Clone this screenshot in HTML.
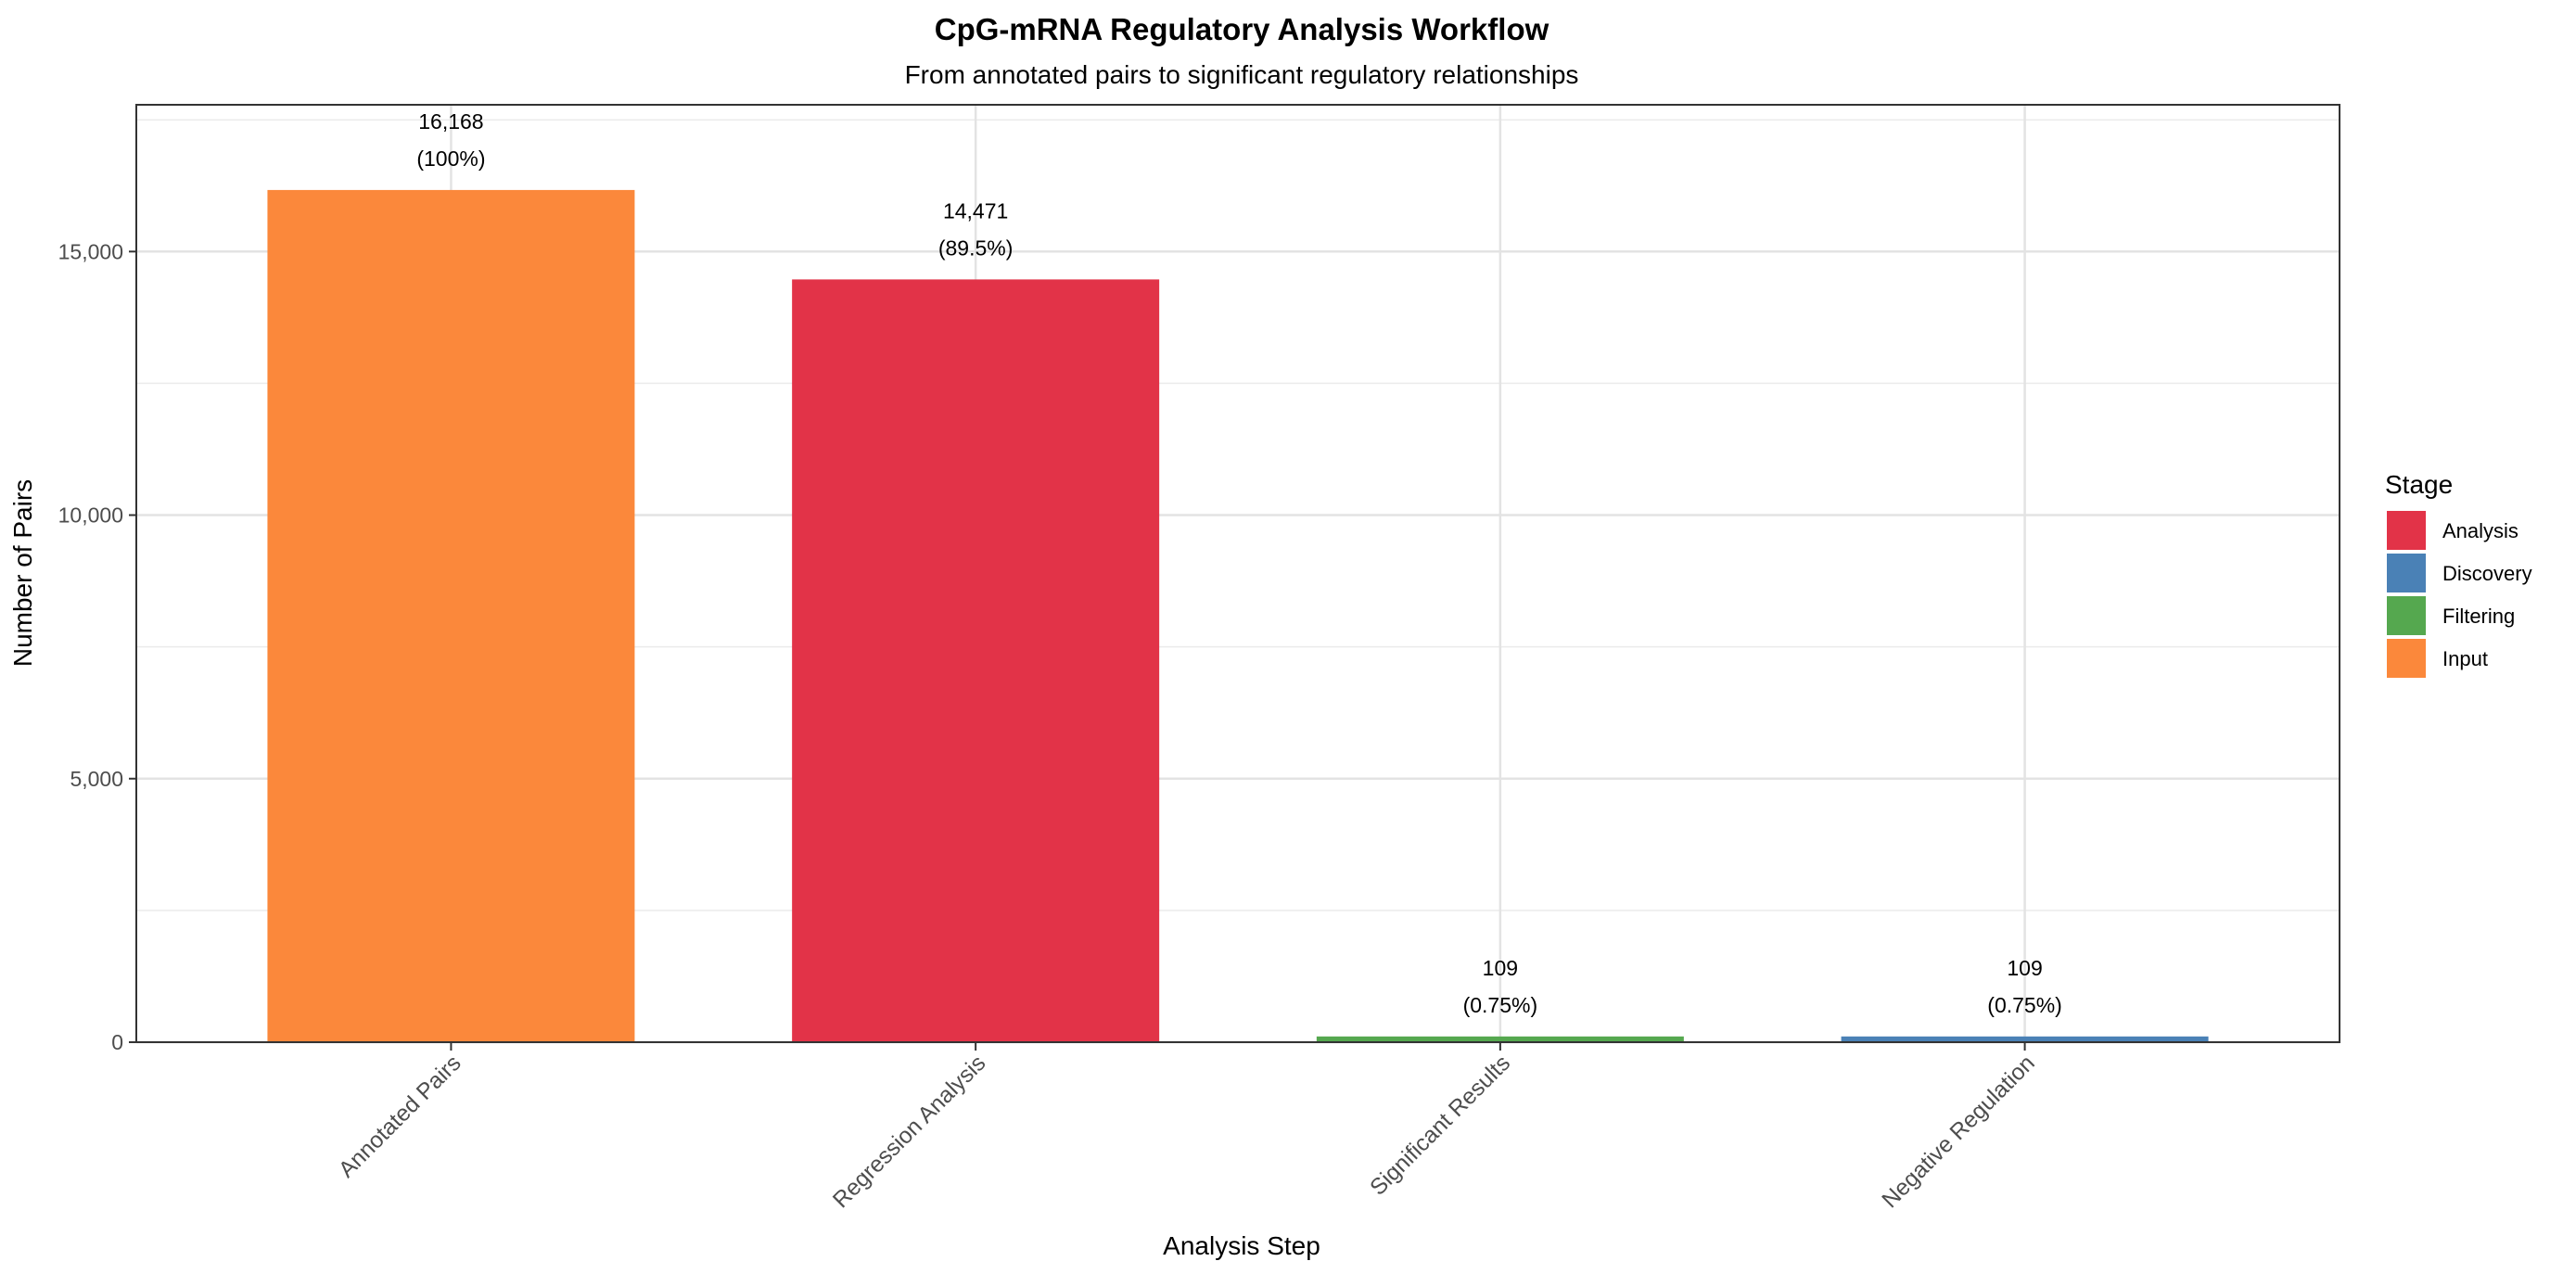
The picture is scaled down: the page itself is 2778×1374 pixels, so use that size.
<!DOCTYPE html>
<html><head><meta charset="utf-8"><style>
html,body{margin:0;padding:0;background:#fff;}
svg{display:block;font-family:"Liberation Sans",Arial,sans-serif;}
</style></head><body>
<svg id="chart" width="2778" height="1374" viewBox="0 0 2778 1374">
<rect x="0" y="0" width="2778" height="1374" fill="#fff"/>
<text x="1339" y="43" text-anchor="middle" font-size="33" font-weight="bold" fill="#000">CpG-mRNA Regulatory Analysis Workflow</text>
<text x="1339" y="90" text-anchor="middle" font-size="28" fill="#000">From annotated pairs to significant regulatory relationships</text>
<g id="grid"></g>
<g id="bars"></g>
<g id="labels"></g>
<rect x="147" y="113" width="2376" height="1011" fill="none" stroke="#333" stroke-width="2"/>
<g id="yaxis"></g>
<g id="xaxis"></g>
<text transform="translate(34,618) rotate(-90)" text-anchor="middle" font-size="28" fill="#000">Number of Pairs</text>
<text x="1339" y="1353" text-anchor="middle" font-size="28" fill="#000">Analysis Step</text>
<g id="legend">
<text x="2572" y="532" font-size="28" fill="#000">Stage</text>
</g>
</svg>
<script>
const categories = ["Annotated Pairs","Regression Analysis","Significant Results","Negative Regulation"];
const values = [16168, 14471, 109, 109];
const pctLabels = ["(100%)","(89.5%)","(0.75%)","(0.75%)"];
const stages = ["Input","Analysis","Filtering","Discovery"];
const yTicks = [0, 5000, 10000, 15000];
const legendStages = ["Analysis","Discovery","Filtering","Input"];
const stageColors = {Analysis:"#e23348",Discovery:"#4a81b6",Filtering:"#55a84f",Input:"#fb883b"};

const NS="http://www.w3.org/2000/svg";
const L=147,R=2523,T=113,B=1124;
const yMax=Math.max(...values)*1.1;
const y=v=>B-(v/yMax)*(B-T);
const step=(R-L)/(categories.length-1+1.2);
const x=i=>L+step*(0.6+i);
function mk(tag,attrs,parent){const e=document.createElementNS(NS,tag);for(const k in attrs)e.setAttribute(k,attrs[k]);parent.appendChild(e);return e;}
const grid=document.getElementById('grid'),bars=document.getElementById('bars'),labels=document.getElementById('labels'),yaxis=document.getElementById('yaxis'),xaxis=document.getElementById('xaxis'),legend=document.getElementById('legend');
mk('rect',{x:L,y:T,width:R-L,height:B-T,fill:'#fff'},grid);
for(let i=0;i<yTicks.length;i++){
  const mv=yTicks[i]+2500;
  if(mv<yMax){const g=mk('line',{x1:L,x2:R,y1:y(mv),y2:y(mv),stroke:'#ebebeb','stroke-width':1.5},grid);
  
  }
}
yTicks.forEach(t=>{
  const g=mk('line',{x1:L,x2:R,y1:y(t),y2:y(t),stroke:'#e3e3e3','stroke-width':2.5},grid);
  
  
  const tk=mk('line',{x1:L-8,x2:L,y1:y(t),y2:y(t),stroke:'#333','stroke-width':2},yaxis);
  
  
  const tl=mk('text',{x:L-14,y:y(t)+8,'text-anchor':'end','font-size':23,fill:'#4d4d4d'},yaxis);
  tl.textContent=t.toLocaleString('en-US');
  
  
});
categories.forEach((c,i)=>{
  const cx=x(i);
  const vg=mk('line',{x1:cx,x2:cx,y1:T,y2:B,stroke:'#e3e3e3','stroke-width':2.5},grid);
  
  
  const w=step*0.7;
  const b=mk('rect',{x:cx-w/2,y:y(values[i]),width:w,height:B-y(values[i]),fill:stageColors[stages[i]]},bars);
  
  
  const t1=mk('text',{x:cx,y:y(values[i])-66,'text-anchor':'middle','font-size':23,fill:'#000'},labels);
  t1.textContent=values[i].toLocaleString('en-US');
  
  
  const t2=mk('text',{x:cx,y:y(values[i])-26,'text-anchor':'middle','font-size':23,fill:'#000'},labels);
  t2.textContent=pctLabels[i];
  
  
  const tk=mk('line',{x1:cx,x2:cx,y1:B,y2:B+9,stroke:'#333','stroke-width':2},xaxis);
  
  
  const xl=mk('text',{transform:`translate(${cx+12},${B+24}) rotate(-45)`,'text-anchor':'end','font-size':24.5,fill:'#4d4d4d'},xaxis);
  xl.textContent=c;
  
  
});
legendStages.forEach((s,i)=>{
  const yy=551+i*46;
  const k=mk('rect',{x:2574,y:yy,width:42,height:42,fill:stageColors[s]},legend);
  
  
  const t=mk('text',{x:2634,y:yy+29,'font-size':22,fill:'#000'},legend);
  t.textContent=s;
  
  
});
</script>
</body></html>
